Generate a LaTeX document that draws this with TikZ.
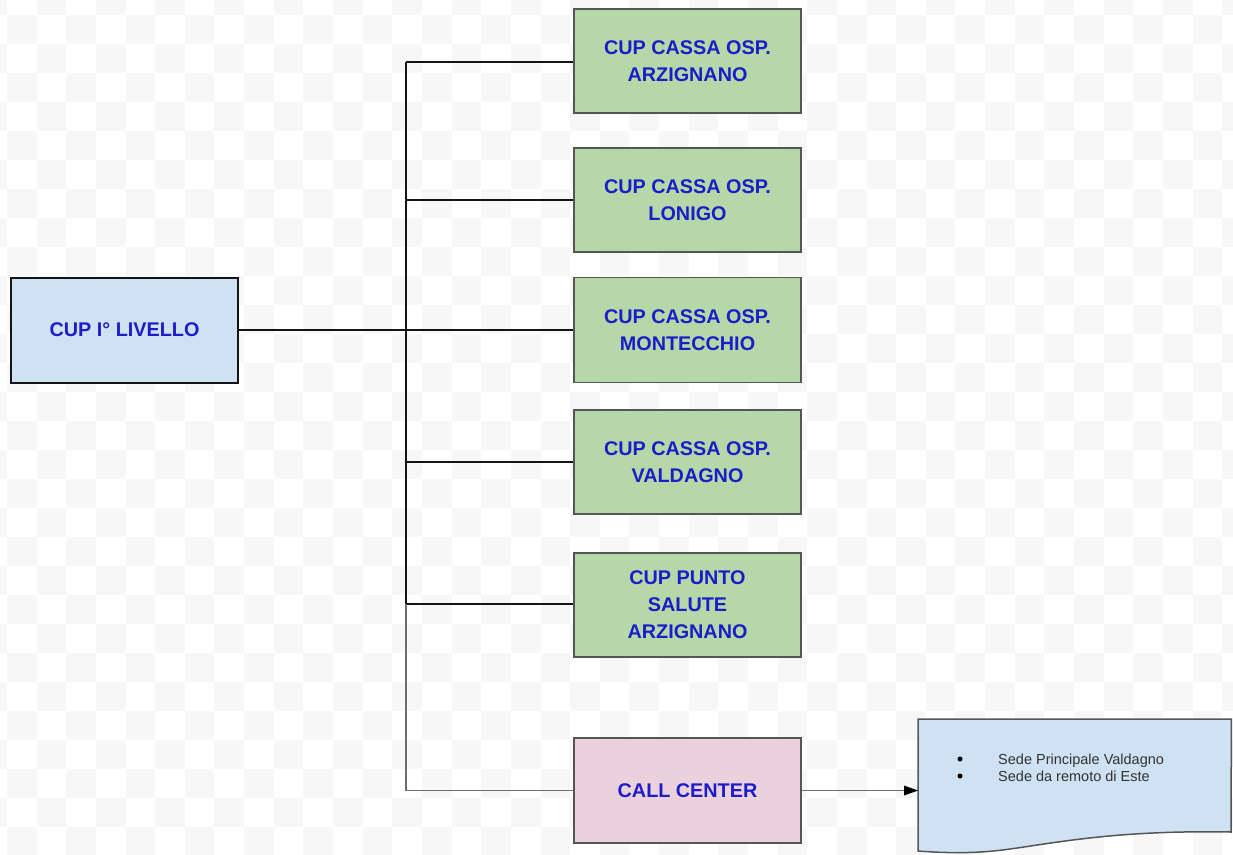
\documentclass[tikz,border=0pt]{standalone}
\usepackage{fontspec}
\setmainfont{Liberation Sans}
\usetikzlibrary{arrows.meta}
\definecolor{txtblue}{RGB}{28,28,200}
\definecolor{rootfill}{RGB}{207,226,243}
\definecolor{greenfill}{RGB}{182,215,168}
\definecolor{pinkfill}{RGB}{234,209,220}
\definecolor{docfill}{RGB}{207,226,243}
\definecolor{boxline}{RGB}{85,85,85}
\definecolor{checker}{RGB}{247,247,247}
\definecolor{darkline}{RGB}{20,20,20}
\definecolor{greyline}{RGB}{110,110,110}
\definecolor{doctext}{RGB}{50,50,50}
\tikzset{
  box/.style={draw=boxline, line width=1.5pt, minimum width=227pt, minimum height=104pt,
    inner sep=2pt, align=center, text=txtblue,
    font=\fontsize{19.8}{27}\selectfont\bfseries},
  greenbox/.style={box, fill=greenfill},
  link/.style={draw=darkline, line width=2.2pt},
  greylink/.style={draw=greyline, line width=1.5pt},
  doctxt/.style={anchor=base west, inner sep=0pt, text=doctext, font=\fontsize{14.5}{17}\selectfont},
  bullet/.style={circle, fill=black, inner sep=0pt, minimum size=5pt},
}
\begin{document}
\begin{tikzpicture}[x=1pt,y=-1pt]
\useasboundingbox (0,0) rectangle (1233,854);
\begin{scope}
\clip (0,0) rectangle (1233,854);
\foreach \i in {-1,...,42} {
  \foreach \j in {-1,...,30} {
    \pgfmathtruncatemacro\s{mod(\i+\j+100,2)}
    \ifnum\s=0
      \fill[checker] (7+\i*29.64,15+\j*29) rectangle ++(29.64,29);
    \fi
  }
}
\end{scope}

% nodes
\node[box, fill=rootfill, draw=darkline, line width=2pt, minimum height=105pt] (root) at (124.5,330) {CUP I° LIVELLO};
\node[greenbox] (b1) at (687.5,61) {CUP CASSA OSP.\\ARZIGNANO};
\node[greenbox] (b2) at (687.5,200) {CUP CASSA OSP.\\LONIGO};
\node[greenbox, minimum height=105pt] (b3) at (687.5,330) {CUP CASSA OSP.\\MONTECCHIO};
\node[greenbox] (b4) at (687.5,462) {CUP CASSA OSP.\\VALDAGNO};
\node[greenbox] (b5) at (687.5,605) {CUP PUNTO\\SALUTE\\ARZIGNANO};
\node[box, fill=pinkfill, minimum height=105pt] (cc) at (687.5,790.5) {CALL CENTER};

% document shape
\node[minimum width=313pt, minimum height=134pt, inner sep=0pt, anchor=north west] (doc) at (918,719) {};
\draw[draw=boxline, line width=1.5pt, fill=docfill]
  (doc.north west) -- (doc.north east) -- (1231,832)
  .. controls (1120,830) and (1060,842) .. (1010,849)
  .. controls (975,854) and (945,853) .. (918,851) -- cycle;
\node[bullet] (d1a) at (960,759) {};
\node[doctxt] (d1b) at (998,764) {Sede Principale Valdagno};
\node[bullet] (d2a) at (960,776) {};
\node[doctxt] (d2b) at (998,781) {Sede da remoto di Este};

% connectors
\coordinate (jt) at (406,62);
\coordinate (jm) at (406,604);
\coordinate (jb) at (406,790.5);
\draw[link] (jt) -- (jm);
\draw[link] (jt) -- (b1.west |- jt);
\draw[link] (jt |- b2.west) -- (b2.west);
\draw[link] (root.east) -- (b3.west);
\draw[link] (jt |- b4.west) -- (b4.west);
\draw[link] (jm) -- (b5.west |- jm);
\draw[greylink] (jm) -- (jb) -- (cc.west);
\draw[greylink, -{Triangle[length=14pt,width=10pt,fill=black,line width=0pt]}] (cc.east) -- (doc.west |- cc.east);
\end{tikzpicture}
\end{document}
